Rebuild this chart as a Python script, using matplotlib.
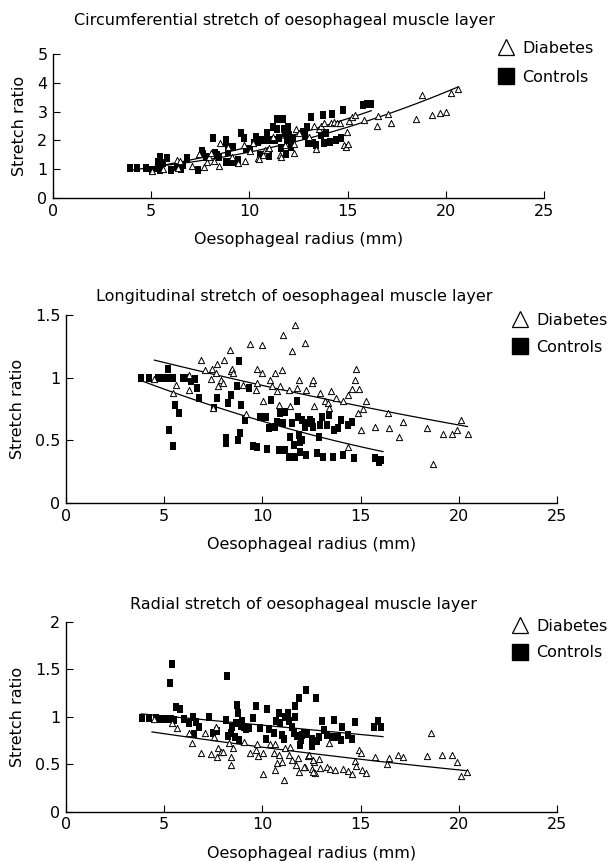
import numpy as np
import matplotlib
matplotlib.use("Agg")
import matplotlib.pyplot as plt
from matplotlib.lines import Line2D

plt.rcParams['font.family'] = ['DejaVu Sans']

# ---------------- data ----------------
# Circumferential stretch
circ_ctrl_x = [3.9, 4.27, 4.73, 5.03, 5.33, 5.43, 5.37, 5.47, 5.79, 5.6, 6.03, 6.33, 6.5, 6.63, 6.83,
               7.39, 7.57, 7.63, 7.77, 8.13, 8.23, 8.33, 8.43, 8.79, 8.83, 8.83, 8.89, 8.93, 9.03, 9.15,
               9.29, 9.42, 9.56, 9.72, 9.82, 10.02, 10.22, 10.32, 10.42, 10.52, 10.62, 10.82, 10.92,
               11.02, 11.12, 11.22, 11.32, 11.38, 11.42, 11.52, 11.62, 11.72, 11.78, 11.82, 11.86, 11.92,
               11.98, 12.02, 12.12, 12.22, 12.72, 12.82, 12.92, 12.96, 13.06, 13.16, 13.22, 13.38, 13.66,
               13.76, 13.82, 13.92, 14.12, 14.22, 14.42, 14.68, 14.78, 15.77, 16.0, 16.17]
circ_ctrl_y = [1.03, 1.03, 1.03, 0.98, 1.03, 0.98, 1.26, 1.44, 1.38, 1.2, 0.98, 1.09, 1.0, 1.15, 1.38,
               0.98, 1.64, 1.53, 1.44, 2.07, 1.57, 1.49, 1.44, 1.26, 2.03, 1.9, 1.78, 1.61, 1.26, 1.78,
               1.26, 1.32, 2.26, 2.07, 1.69, 1.69, 1.9, 2.13, 1.95, 1.49, 2.0, 2.0, 2.24,
               1.46, 2.0, 2.47, 2.0, 2.76, 2.41, 2.07, 1.75, 2.76, 2.41, 2.24, 1.53, 2.0,
               2.47, 2.18, 1.78, 2.07, 2.3, 2.18, 2.47, 1.9, 1.9, 2.82, 1.92, 1.84, 2.18,
               2.87, 1.92, 2.24, 1.95, 2.93, 2.0, 2.1, 3.05, 3.22, 3.25, 3.28]
circ_diab_x = [5.03, 5.59, 6.3, 6.49, 6.39, 7.09, 7.43, 7.67, 7.83, 7.94, 8.03, 8.2, 8.43, 8.49, 8.93,
               9.13, 9.43, 9.72, 9.78, 10.02, 10.2, 10.42, 10.48, 10.68, 10.8, 10.92, 11.02, 11.22, 11.56,
               11.63, 11.82, 12.27, 12.27, 12.38, 12.52, 13.02, 13.28, 13.38, 13.52, 13.66, 13.82, 14.18,
               14.32, 14.46, 14.62, 14.82, 14.92, 14.98, 15.02, 15.08, 15.22, 15.38, 15.81, 16.51, 16.55,
               17.07, 17.21, 18.47, 18.77, 19.31, 19.71, 20.01, 20.24, 20.61]
circ_diab_y = [0.95, 1.0, 1.32, 1.3, 1.03, 1.11, 1.53, 1.07, 1.26, 1.43, 1.57, 1.28, 1.11, 1.92, 1.78,
               1.44, 1.2, 1.84, 1.3, 1.64, 1.9, 1.38, 1.34, 1.49, 1.67, 1.67, 1.72, 2.13, 1.49,
               1.43, 1.84, 1.55, 1.87, 2.41, 2.24, 2.13, 2.49, 1.69, 2.41, 2.49, 2.61, 2.59,
               2.64, 2.59, 2.61, 1.84, 1.78, 2.3, 1.87, 2.68, 2.82, 2.87, 2.7, 2.49, 2.84,
               2.93, 2.59, 2.74, 3.56, 2.87, 2.95, 2.99, 3.66, 3.77]
# fitted trend curves (start, middle, end)
circ_ctrl_fit_x = [3.9, 12.58, 16.2]
circ_ctrl_fit_y = [0.95, 2.25, 3.03]
circ_diab_fit_x = [5.1, 12.6, 20.6]
circ_diab_fit_y = [1.09, 2.0, 3.85]

# Longitudinal stretch
long_ctrl_x = [3.83, 4.22, 4.67, 4.93, 5.18, 5.43, 5.21, 5.26, 5.43, 5.57, 5.77, 5.97, 6.19, 6.36, 6.58,
               6.65, 6.78, 7.54, 7.71, 8.13, 8.13, 8.26, 8.38, 8.72, 8.81, 8.75, 8.86, 8.89, 9.09, 9.31,
               9.51, 9.7, 9.9, 10.16, 10.24, 10.32, 10.44, 10.63, 10.74, 10.83, 10.91, 11.03, 11.13,
               11.17, 11.34, 11.42, 11.5, 11.59, 11.67, 11.77, 11.81, 11.84, 11.93, 11.93, 12.01, 12.01,
               12.18, 12.21, 12.26, 12.43, 12.52, 12.6, 12.77, 12.89, 12.94, 13.06, 13.11, 13.27, 13.39,
               13.61, 13.66, 13.83, 14.0, 14.12, 14.34, 14.57, 14.68, 15.72, 15.93, 16.06]
long_ctrl_y = [1.0, 1.0, 1.0, 1.0, 1.0, 1.0, 1.07, 0.58, 0.455, 0.78, 0.72, 1.0, 1.0, 0.97, 0.99,
               0.92, 0.84, 0.76, 0.84, 0.52, 0.48, 0.8, 0.86, 0.93, 1.13, 0.5, 0.56, 0.78, 0.66, 0.92,
               0.455, 0.45, 0.69, 0.69, 0.43, 0.6, 0.82, 0.61, 0.65, 0.42, 0.72, 0.64, 0.73,
               0.42, 0.37, 0.53, 0.64, 0.46, 0.37, 0.81, 0.69, 0.54, 0.49, 0.41, 0.66, 0.5,
               0.61, 0.38, 0.64, 0.66, 0.65, 0.61, 0.4, 0.53, 0.62, 0.69, 0.37, 0.62, 0.7,
               0.37, 0.58, 0.6, 0.66, 0.38, 0.62, 0.65, 0.36, 0.36, 0.33, 0.34]
long_diab_x = [4.5, 5.43, 5.6, 6.24, 6.28, 6.87, 7.09, 7.37, 7.42, 7.46, 7.66, 7.71, 7.76, 7.88, 8.0,
               8.05, 8.33, 8.38, 8.47, 8.5, 9.0, 9.14, 9.36, 9.65, 9.73, 9.73, 9.99, 9.99, 10.02, 10.41,
               10.49, 10.66, 10.74, 10.83, 10.91, 11.0, 11.05, 11.34, 11.42, 11.5, 11.64, 11.76, 11.84,
               12.18, 12.21, 12.52, 12.65, 12.6, 12.94, 13.19, 13.33, 13.39, 13.5, 13.73, 14.12, 14.37,
               14.37, 14.54, 14.74, 14.79, 14.93, 14.88, 15.0, 15.1, 15.3, 15.72, 16.4, 16.43, 16.97,
               17.14, 18.39, 18.67, 19.18, 19.64, 19.9, 20.11, 20.48]
long_diab_y = [0.99, 0.875, 0.94, 0.9, 1.02, 1.14, 1.06, 0.99, 1.07, 0.76, 1.04, 1.11, 0.93, 0.98, 0.96,
               1.14, 1.22, 1.05, 1.07, 1.04, 0.94, 0.71, 1.27, 0.9, 1.07, 0.955, 1.26, 1.04, 0.81, 0.98,
               0.93, 1.04, 0.89, 0.78, 0.93, 1.06, 1.34, 0.9, 0.77, 1.21, 1.42, 0.92, 0.98,
               1.28, 0.9, 0.955, 0.77, 0.98, 0.875, 0.81, 0.8, 0.76, 0.89, 0.835, 0.81, 0.445,
               0.86, 0.91, 0.98, 1.07, 0.91, 0.72, 0.58, 0.75, 0.81, 0.61, 0.72, 0.6, 0.53,
               0.65, 0.6, 0.31, 0.55, 0.55, 0.58, 0.66, 0.55]
long_ctrl_fit_x = [3.83, 12.85, 16.14]
long_ctrl_fit_y = [0.976, 0.53, 0.41]
long_diab_fit_x = [4.5, 11.84, 20.44]
long_diab_fit_y = [1.14, 0.875, 0.61]

# Radial stretch
rad_ctrl_x = [3.88, 4.22, 4.59, 4.84, 5.1, 5.35, 5.52, 5.4, 5.32, 5.6, 5.8, 6.02, 6.28, 6.49, 6.61,
              6.78, 6.53, 7.29, 7.5, 7.71, 8.13, 8.18, 8.26, 8.38, 8.47, 8.6, 8.67, 8.72, 8.77, 8.81,
              8.89, 8.94, 9.06, 9.14, 9.31, 9.51, 9.68, 9.87, 10.24, 10.36, 10.19, 10.58, 10.69, 10.83,
              10.91, 11.0, 11.08, 11.17, 11.3, 11.37, 11.5, 11.59, 11.67, 11.67, 11.76, 11.88, 11.93,
              11.98, 12.1, 12.22, 12.26, 12.52, 12.74, 12.52, 12.01, 12.18, 12.77, 12.89, 13.06, 13.16,
              13.27, 13.53, 13.66, 13.83, 13.98, 14.07, 14.34, 14.54, 14.71, 15.69, 15.89, 16.06]
rad_ctrl_y = [0.99, 0.99, 0.99, 0.98, 0.98, 0.98, 0.97, 1.556, 1.36, 1.1, 1.08, 0.98, 0.93, 1.0, 0.94,
              0.89, 0.82, 1.0, 0.825, 0.85, 0.965, 1.43, 0.8, 0.825, 0.89, 0.79, 0.93, 1.12, 1.04, 0.755,
              0.9, 0.96, 0.895, 0.87, 0.88, 0.99, 1.11, 0.88, 1.08, 0.87, 0.77, 0.825, 0.96, 1.035,
              0.93, 0.81, 0.77, 1.0, 1.04, 0.95, 0.89, 0.825, 1.0, 1.11, 0.8, 1.2, 0.7,
              0.755, 0.825, 1.28, 0.82, 0.77, 1.2, 0.69, 0.81, 0.825, 0.74, 0.79, 0.96, 0.86,
              0.81, 0.79, 0.965, 0.79, 0.755, 0.895, 0.81, 0.77, 0.94, 0.895, 0.95, 0.895]
rad_diab_x = [4.5, 5.4, 5.63, 6.28, 6.41, 7.07, 6.87, 7.4, 7.54, 7.62, 7.71, 7.76, 7.88, 8.0, 8.3,
              8.39, 8.39, 8.5, 9.06, 9.36, 9.65, 9.73, 9.78, 10.02, 10.02, 10.41, 10.58, 10.63, 10.66,
              10.74, 10.83, 11.0, 11.08, 11.17, 11.34, 11.42, 11.5, 11.7, 11.81, 11.84, 12.18, 12.31,
              12.52, 12.65, 12.69, 12.35, 12.1, 12.56, 12.6, 12.89, 12.94, 13.27, 13.39, 13.44, 13.7,
              14.12, 14.34, 14.54, 14.74, 14.79, 14.93, 15.01, 15.08, 15.27, 15.72, 16.36, 16.43, 16.9,
              17.15, 18.39, 18.59, 19.15, 19.64, 19.9, 20.13, 20.44]
rad_diab_y = [0.98, 0.93, 0.88, 0.825, 0.72, 0.83, 0.62, 0.607, 0.79, 0.895, 0.57, 0.667, 0.63, 0.63, 0.725,
              0.49, 0.58, 0.667, 0.736, 0.62, 0.65, 0.71, 0.585, 0.614, 0.395, 0.71, 0.614, 0.71, 0.44,
              0.51, 0.596, 0.525, 0.33, 0.667, 0.596, 0.677, 0.543, 0.49, 0.56, 0.42, 0.47, 0.585,
              0.445, 0.525, 0.41, 0.596, 0.47, 0.543, 0.42, 0.55, 0.455, 0.47, 0.725, 0.445, 0.44,
              0.445, 0.43, 0.4, 0.536, 0.48, 0.65, 0.614, 0.44, 0.41, 0.58, 0.5, 0.56, 0.596,
              0.57, 0.585, 0.83, 0.596, 0.596, 0.525, 0.375, 0.42]
rad_ctrl_fit_x = [3.83, 9.8, 16.14]
rad_ctrl_fit_y = [1.03, 0.915, 0.79]
rad_diab_fit_x = [4.38, 11.84, 20.44]
rad_diab_fit_y = [0.84, 0.63, 0.43]

titles = ["Circumferential stretch of oesophageal muscle layer",
          "Longitudinal stretch of oesophageal muscle layer",
          "Radial stretch of oesophageal muscle layer"]
y_limits = [5, 1.5, 2]
y_ticks = [[0, 1, 2, 3, 4, 5], [0, 0.5, 1, 1.5], [0, 0.5, 1, 1.5, 2]]
x_ticks = [0, 5, 10, 15, 20, 25]
series_labels = ["Diabetes", "Controls"]

# ---------------- layout ----------------
W, H = 614, 861
fig = plt.figure(figsize=(W / 100, H / 100), dpi=100)

def rect(left, right, top, bottom):
    return [left / W, 1 - bottom / H, (right - left) / W, (bottom - top) / H]

axes_px = [(53, 544, 54, 198), (66, 557, 315, 503), (66, 557, 622, 811.5)]
title_px = [(284, 20), (294, 297), (303, 605)]
legend_px = [(498, 41), (512, 313), (512, 619)]
legend_gap = [0.85, 0.75, 0.7]

panels = [
    (circ_diab_x, circ_diab_y, circ_ctrl_x, circ_ctrl_y,
     (circ_diab_fit_x, circ_diab_fit_y), (circ_ctrl_fit_x, circ_ctrl_fit_y)),
    (long_diab_x, long_diab_y, long_ctrl_x, long_ctrl_y,
     (long_diab_fit_x, long_diab_fit_y), (long_ctrl_fit_x, long_ctrl_fit_y)),
    (rad_diab_x, rad_diab_y, rad_ctrl_x, rad_ctrl_y,
     (rad_diab_fit_x, rad_diab_fit_y), (rad_ctrl_fit_x, rad_ctrl_fit_y)),
]

FS = 11.5
# slightly tall filled box for the control group
ctrl_marker = [(-0.42, -0.5), (0.42, -0.5), (0.42, 0.5), (-0.42, 0.5), (-0.42, -0.5)]

for i, (dx, dy, cx, cy, dfit, cfit) in enumerate(panels):
    l, r, t, b = axes_px[i]
    ax = fig.add_axes(rect(l, r, t, b))
    ax.set_xlim(0, 25)
    ax.set_ylim(0, y_limits[i])
    ax.set_xticks(x_ticks)
    ax.set_yticks(y_ticks[i])
    ax.set_yticklabels([f"{v:g}" for v in y_ticks[i]])
    for s in ("top", "right"):
        ax.spines[s].set_visible(False)
    for s in ("left", "bottom"):
        ax.spines[s].set_linewidth(1.0)
    ax.tick_params(direction="in", length=5, width=0.8, labelsize=FS, pad=4)
    ax.set_ylabel("Stretch ratio", fontsize=FS, labelpad=7)
    ax.set_xlabel("Oesophageal radius (mm)", fontsize=FS, labelpad=10)
    ax.patch.set_visible(False)

    # quadratic trend curve through the fitted values of each group
    for fx, fy in (dfit, cfit):
        coef = np.polyfit(fx, fy, 2)
        xx = np.linspace(fx[0], fx[-1], 100)
        ax.plot(xx, np.polyval(coef, xx), color="black", lw=0.9, zorder=2)

    ax.scatter(cx, cy, marker=ctrl_marker, s=34, color="black", linewidths=0, zorder=3)
    ax.scatter(dx, dy, marker="^", s=20, facecolor="white", edgecolor="black",
               linewidths=0.7, zorder=4)

    fig.text(title_px[i][0] / W, 1 - title_px[i][1] / H, titles[i],
             ha="center", va="center", fontsize=FS)

    handles = [Line2D([], [], ls="", marker="^", ms=11, mfc="white", mec="black", mew=0.9),
               Line2D([], [], ls="", marker="s", ms=11, mfc="black", mec="black")]
    fig.legend(handles, series_labels, loc="upper left",
               bbox_to_anchor=(legend_px[i][0] / W, 1 - legend_px[i][1] / H),
               frameon=False, fontsize=FS, handlelength=1.0, handletextpad=0.5,
               labelspacing=legend_gap[i], borderpad=0, borderaxespad=0)

fig.savefig("out.png", dpi=100)
